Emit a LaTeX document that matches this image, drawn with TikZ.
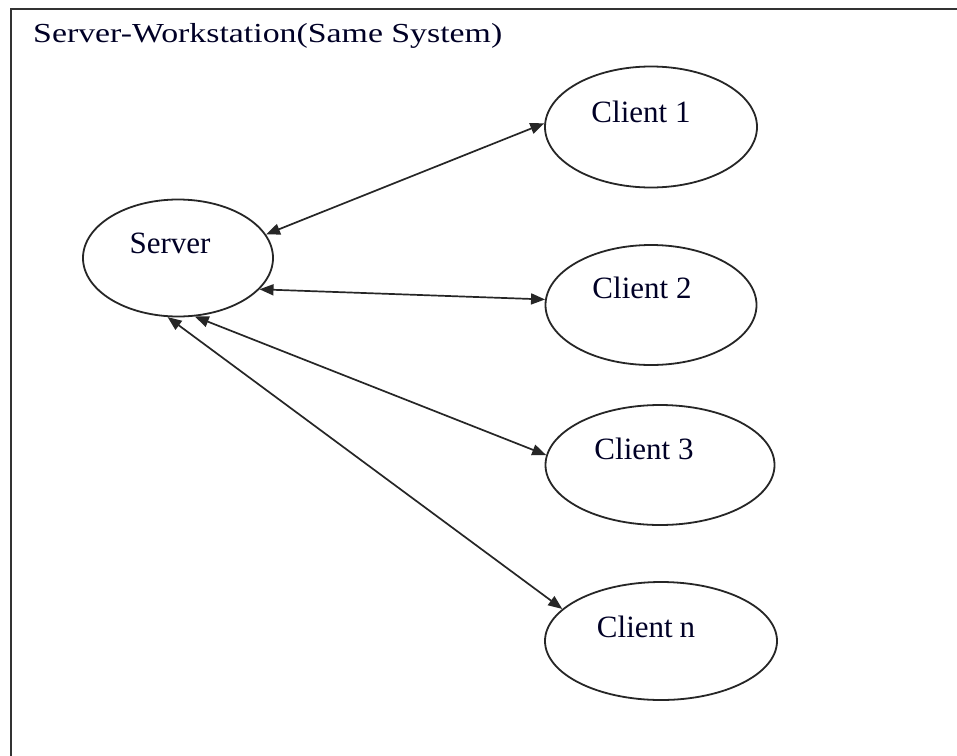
\documentclass[tikz,border=0pt]{standalone}
\usepackage{fontspec}
\setmainfont{Liberation Serif}
\newfontfamily\titlefont[FakeStretch=1.23]{Liberation Serif}
\usetikzlibrary{shapes.geometric,arrows.meta}

\tikzset{
  frame/.style={draw=black!80, line width=2.6pt},
  ell/.style={ellipse, draw=black!85, line width=1.8pt, fill=white, inner sep=0pt},
  lbl/.style={anchor=base, inner sep=0pt, font=\fontsize{31}{31}\selectfont, text=black!85!blue},
  link/.style={draw=black!85, line width=1.7pt, {Triangle[length=14pt,width=11pt]}-{Triangle[length=14pt,width=11pt]}},
}

\begin{document}
\begin{tikzpicture}[x=1pt, y=-1pt]
  \useasboundingbox (0,0) rectangle (957,755);
  \clip (0,0) rectangle (957,755);
  \fill[white] (0,0) rectangle (957,755);

  % outer frame (runs off the right and bottom edges)
  \draw[frame] (11,9) rectangle (990,790);
  \node[anchor=base west, inner sep=0pt, font=\titlefont\fontsize{27.5}{27.5}\selectfont, text=black!85!blue]
    (title) at (33,42) {Server-Workstation(Same System)};

  % server and clients
  \node[ell, minimum width=190pt, minimum height=117pt] (srv) at (178,258) {};
  \node[ell, minimum width=212pt, minimum height=121pt] (c1) at (651,127) {};
  \node[ell, minimum width=211pt, minimum height=120pt] (c2) at (651,305) {};
  \node[ell, minimum width=229pt, minimum height=120pt] (c3) at (660,465) {};
  \node[ell, minimum width=232pt, minimum height=118pt] (cn) at (661,641) {};

  \node[lbl] (srvt) at (170,253) {Server};
  \node[lbl] (c1t) at (641,122) {Client 1};
  \node[lbl] (c2t) at (642,298) {Client 2};
  \node[lbl] (c3t) at (644,459) {Client 3};
  \node[lbl] (cnt) at (646,637) {Client\kern-1pt\ n};

  % two-way links
  \draw[link] (srv.15) -- (c1.178);
  \draw[link] (srv.-21) -- (c2.177);
  \draw[link] (srv.-74) -- (c3.175);
  \draw[link] (srv.-100) -- (cn.162);
\end{tikzpicture}
\end{document}
